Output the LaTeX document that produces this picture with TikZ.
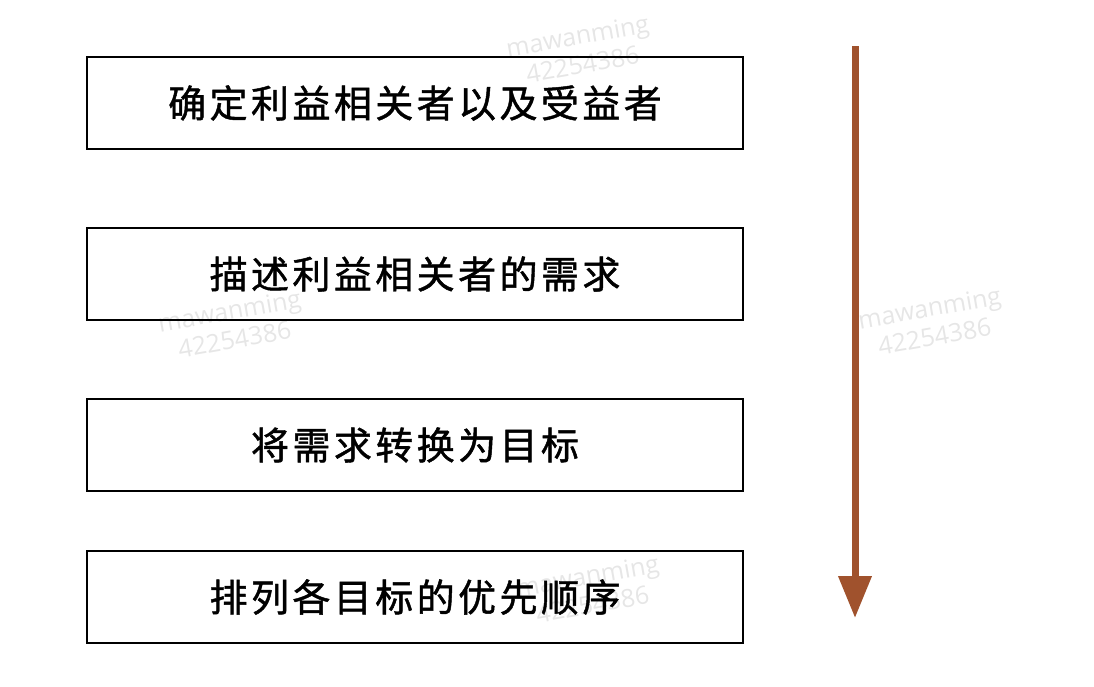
\documentclass[tikz,border=0pt]{standalone}
\usepackage{fontspec}
\newfontfamily\cjk[LetterSpace=9,FakeBold=1.2]{Noto Sans CJK SC}
\newfontfamily\wmfont{Open Sans}
\usetikzlibrary{arrows.meta}
\definecolor{arrowbrown}{HTML}{A0522D}
\definecolor{wmgray}{HTML}{E6E6E6}
\begin{document}
\begin{tikzpicture}
  [x=1pt,y=-1pt,>=Triangle,
   stepbox/.style={draw,line width=1.6pt,minimum width=656pt,minimum height=92pt,inner sep=0pt,font=\cjk\fontsize{38}{40}\selectfont},
   mark text/.style={text=wmgray,font=\wmfont\fontsize{25}{29}\selectfont,rotate=10,align=center},]

\useasboundingbox (0,0) rectangle (1094,686);

% watermarks
\foreach \x/\y in {580/50,232/325,932/322,590/590}
\node[mark text] at (\x,\y) {mawanming\\42254386};

% boxes
\node[stepbox] (who)   at (415,103) {确定利益相关者以及受益者};
\node[stepbox] (needs) at (415,274) {描述利益相关者的需求};
\node[stepbox] (goals) at (415,445) {将需求转换为目标};
\node[stepbox] (order) at (415,597) {排列各目标的优先顺序};

% arrow
\coordinate (start) at (855,46);
\coordinate (end) at (855,618);
\draw[arrowbrown,line width=7pt,-{Triangle[width=32pt,length=42pt]}] (start) -- (end);

\end{tikzpicture}
\end{document}
